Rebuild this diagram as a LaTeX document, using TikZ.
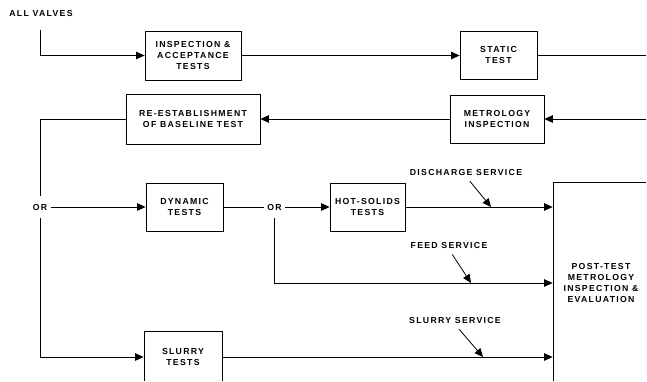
\documentclass[tikz,border=0pt]{standalone}
\usepackage{fontspec}
\newfontfamily\chartfont[LetterSpace=15]{Liberation Sans}
\usetikzlibrary{arrows.meta}
\tikzstyle{flow}=[line width=0.8pt, draw=black, font=\chartfont\bfseries\fontsize{8.7}{11}\selectfont]
\tikzstyle{box}=[rectangle, draw, line width=0.8pt, align=center, inner sep=2pt]
\tikzstyle{lbl}=[inner sep=1pt]
\tikzstyle{or}=[inner xsep=3pt, inner ysep=8pt]
\tikzstyle{edge}=[-{Triangle[length=8.5pt,width=7.5pt]}]
\tikzstyle{tag}=[-{Triangle[length=8.5pt,width=7.5pt]}, shorten <=6pt]

\begin{document}
\begin{tikzpicture}[x=1pt,y=-1pt,flow]
			\useasboundingbox (0,0) rectangle (647,381);
			\clip (0,0) rectangle (646,380.5);

			%The entry
			\draw (41,14) node[lbl] (valves) {ALL VALVES};
			\coordinate (start) at (40,30);

			%The top row
			\draw (193,55.5) node[box, minimum width=96, minimum height=49] (insp) {INSPECTION \&\\ACCEPTANCE\\TESTS};
			\draw (498.5,55.5) node[box, minimum width=77, minimum height=48] (static) {STATIC\\TEST};
			\coordinate (out) at (650,55.5);

			%The return row
			\coordinate (back) at (650,119);
			\draw (497,119) node[box, minimum width=94, minimum height=48] (metro) {METROLOGY\\INSPECTION};
			\draw (193,119) node[box, minimum width=134, minimum height=50] (reest) {RE-ESTABLISHMENT\\OF BASELINE TEST};

			%The test branches
			\draw (40,207) node[or] (or1) {OR};
			\draw (184.5,207) node[box, minimum width=77, minimum height=48] (dyn) {DYNAMIC\\TESTS};
			\draw (274.5,207) node[or] (or2) {OR};
			\draw (367.5,207) node[box, minimum width=75, minimum height=48] (hot) {HOT-SOLIDS\\TESTS};
			\draw (183,357) node[box, minimum width=78, minimum height=52] (slurry) {SLURRY\\TESTS};
			\draw (601,283) node[box, minimum width=96, minimum height=202] (post) {POST-TEST\\METROLOGY\\INSPECTION \&\\EVALUATION};

			%The service labels
			\draw (466,172) node[lbl] (dis) {DISCHARGE SERVICE};
			\draw (449,245) node[lbl] (feed) {FEED SERVICE};
			\draw (455,320) node[lbl] (slu) {SLURRY SERVICE};
			\coordinate (dis-tip) at (491,207);
			\coordinate (feed-tip) at (471,283);
			\coordinate (slu-tip) at (483,357);

			\draw[edge] (start) |- (insp.west);
			\draw[edge] (insp) -- (static);
			\draw (static) -- (out);
			\draw[edge] (back) -- (metro);
			\draw[edge] (metro) -- (reest);
			\draw (reest.west) -| (or1.north);
			\draw[edge] (or1.south) |- (slurry.west);
			\draw[edge] (or1) -- (dyn);
			\draw (dyn) -- (or2);
			\draw[edge] (or2) -- (hot);
			\draw[edge] (or2.south) |- (post.west);
			\draw[edge] (hot.east) -- (hot.east -| post.west);
			\draw[edge] (slurry.east) -- (slurry.east -| post.west);

			\draw[tag] (dis.south) -- (dis-tip);
			\draw[tag] (feed.south) -- (feed-tip);
			\draw[tag] (slu.south) -- (slu-tip);
		\end{tikzpicture}
\end{document}
